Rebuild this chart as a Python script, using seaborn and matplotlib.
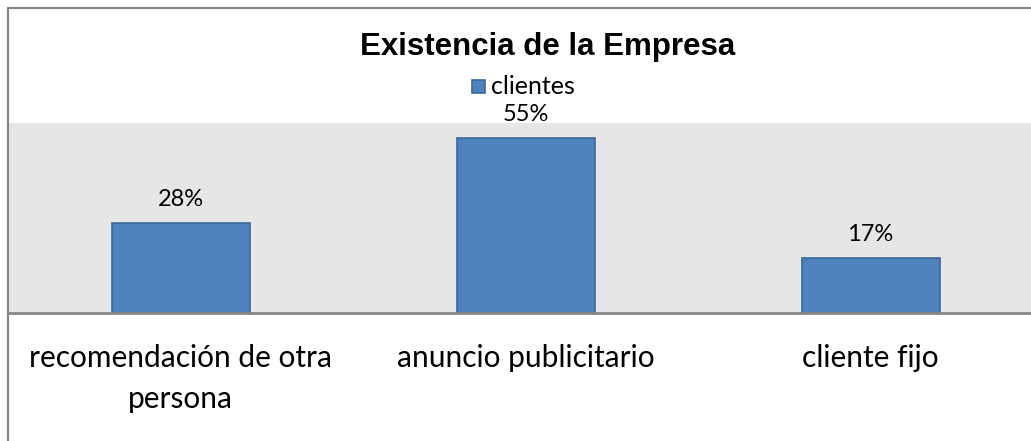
import pandas as pd
import matplotlib
matplotlib.use("Agg")
import matplotlib.pyplot as plt
import seaborn as sns
from matplotlib.patches import Rectangle

categories = ["recomendación de otra\npersona", "anuncio publicitario", "cliente fijo"]
values = [0.28, 0.55, 0.17]
labels = ["28%", "55%", "17%"]
series_name = "clientes"

df = pd.DataFrame({"categoria": categories, "valor": values})

sns.set_style("white")
plt.rcParams['font.family'] = ['Lato', 'DejaVu Sans']
plt.rcParams['text.color'] = 'black'
plt.rcParams['xtick.color'] = 'black'

fig = plt.figure(figsize=(10.31, 4.41), dpi=100)
W, H = 1031, 441

# outer chart border
fig.patches.append(Rectangle((7.5 / W, -0.1), 1.2, (441 - 7.5) / H + 0.1,
                             transform=fig.transFigure, fill=False,
                             edgecolor="#868686", linewidth=1.5))

ax = fig.add_axes([8 / W, (H - 312.5) / H, (W - 8) / W, (312.5 - 123) / H])
ax.set_facecolor("#E6E6E6")
sns.barplot(data=df, x="categoria", y="valor", color="#4F81BD", width=0.4,
            edgecolor="#3A6896", linewidth=1.2, saturation=1, ax=ax)
ax.set_ylim(0, 0.596)
ax.set_xlim(-0.5, -0.5 + (W - 8) / 345)
for sp in ["top", "right", "left"]:
    ax.spines[sp].set_visible(False)
ax.spines["bottom"].set_color("#868686")
ax.spines["bottom"].set_linewidth(2)
ax.set_yticks([])
ax.set_xlabel("")
ax.set_ylabel("")
ax.tick_params(axis="x", length=0, labelsize=21.5, pad=23, labelcolor="black")
for t in ax.get_xticklabels():
    t.set_linespacing(1.55)

for i, (v, lab) in enumerate(zip(values, labels)):
    ax.annotate(lab, (i, v), xytext=(0, 17), textcoords="offset points",
                ha="center", va="center", fontsize=17)

fig.text(548 / W, 1 - 47 / H, "Existencia de la Empresa", ha="center", va="center",
         fontsize=22.5, fontweight="bold", family=["Liberation Sans", "DejaVu Sans"])

fig.patches.append(Rectangle((471.5 / W, 1 - 93 / H), 13 / W, 13 / H,
                             transform=fig.transFigure, facecolor="#4F81BD",
                             edgecolor="#3A6896", linewidth=1.2))
fig.text(491 / W, 1 - 86 / H, series_name, ha="left", va="center", fontsize=18)

fig.savefig("out.png", dpi=100)
